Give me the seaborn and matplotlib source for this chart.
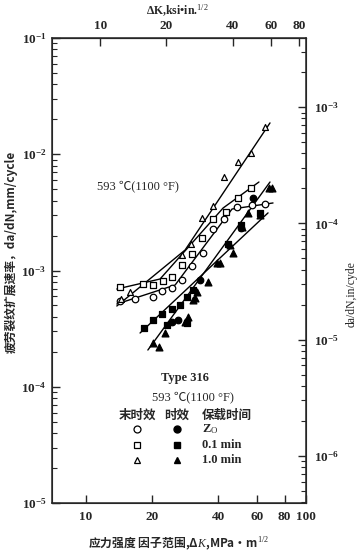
import numpy as np
import pandas as pd
import matplotlib
matplotlib.use("Agg")
import matplotlib.pyplot as plt
import seaborn as sns
from matplotlib.ticker import LogLocator, FixedLocator, FixedFormatter, NullLocator, NullFormatter

# ---------------- data (ΔK in MPa·m^1/2, da/dN in mm/cycle) ----------------
# unaged (open symbols)
circ_K    = [14.3, 16.7, 20.2, 22.2, 24.6, 27.3, 30.3, 34.0, 37.8, 42.4, 48.6, 56.8, 65.1]
circ_rate = [5.47e-4, 5.69e-4, 5.92e-4, 6.67e-4, 7.07e-4, 8.28e-4, 1.094e-3, 1.415e-3,
             2.28e-3, 2.77e-3, 3.51e-3, 3.66e-3, 3.73e-3]
sq_K      = [14.3, 18.2, 20.2, 22.4, 24.6, 27.3, 30.3, 33.7, 37.8, 43.3, 49.1, 56.2]
sq_rate   = [7.21e-4, 7.66e-4, 7.5e-4, 8.13e-4, 8.79e-4, 1.115e-3, 1.387e-3, 1.905e-3,
             2.77e-3, 3.18e-3, 4.2e-3, 5.13e-3]
tri_K     = [14.4, 15.8, 27.3, 30.0, 33.7, 37.8, 42.4, 49.1, 56.2, 65.1]
tri_rate  = [5.69e-4, 6.53e-4, 1.36e-3, 1.69e-3, 2.83e-3, 3.59e-3, 6.37e-3, 8.57e-3,
             1.025e-2, 1.72e-2]
# aged (filled symbols)
fcirc_K    = [24.6, 26.2, 33.0, 50.7, 57.4]
fcirc_rate = [3.6e-4, 3.75e-4, 8.28e-4, 2.32e-3, 4.2e-3]
fsq_K      = [18.4, 20.2, 22.2, 24.6, 26.8, 28.8, 30.6, 23.3, 28.8, 44.2, 50.7, 61.8]
fsq_rate   = [3.2e-4, 3.75e-4, 4.22e-4, 4.67e-4, 5.05e-4, 5.92e-4, 6.79e-4, 3.4e-4,
              3.53e-4, 1.69e-3, 2.46e-3, 3.13e-3]
ftri_K     = [20.2, 21.5, 22.9, 28.2, 29.1, 30.6, 31.3, 32.0, 35.8, 39.4, 40.6, 45.1, 46.6,
              51.2, 54.5, 61.8, 68.0, 70.0]
ftri_rate  = [2.38e-4, 2.2e-4, 2.9e-4, 3.6e-4, 3.98e-4, 5.57e-4, 5.8e-4, 6.53e-4, 7.96e-4,
              1.16e-3, 1.16e-3, 1.66e-3, 1.415e-3, 2.37e-3, 3.13e-3, 3.0e-3, 5.13e-3, 5.13e-3]

# fitted lines
line_circ_K    = [13.8, 25.4, 46.1, 70.8]
line_circ_rate = [5.15e-4, 7.5e-4, 3.38e-3, 3.81e-3]
line_sq_K      = [13.8, 21.7, 42.0, 61.1]
line_sq_rate   = [6.93e-4, 8.45e-4, 3.45e-3, 5.77e-3]
line_tri_K     = [13.8, 28.2, 68.6]
line_tri_rate  = [4.95e-4, 1.5e-3, 1.86e-2]
line_fsq_K     = [17.6, 67.2]
line_fsq_rate  = [2.9e-4, 3.13e-3]
line_ftri_K    = [19.1, 68.6]
line_ftri_rate = [2.07e-4, 5.77e-3]

bottom_ticks = [10, 20, 40, 60, 80, 100]
top_ticks = [10, 20, 40, 60, 80]
KSI_FACTOR = 1.16   # ksi·in^1/2 -> MPa·m^1/2 as drawn
IN_PER_MM = 1 / 25.4

# ---------------- style ----------------
sns.set_style("ticks")
plt.rcParams['font.family'] = ['Liberation Serif', 'Noto Sans CJK SC', 'DejaVu Sans']
plt.rcParams['mathtext.fontset'] = 'custom'
plt.rcParams['mathtext.rm'] = 'Liberation Serif'
plt.rcParams['mathtext.it'] = 'Liberation Serif:italic'
plt.rcParams['mathtext.bf'] = 'Liberation Serif:bold'
cjk = ['Noto Sans CJK SC', 'Liberation Serif']

fig = plt.figure(figsize=(3.6, 5.51), dpi=100)
ax = fig.add_axes([52/360, 1-503/551, 254/360, 465/551])

ax.set_xscale('log')
ax.set_yscale('log')
ax.set_xlim(7.0, 100)
ax.set_ylim(1e-5, 1e-1)

# lines
for lk, lr in [(line_circ_K, line_circ_rate), (line_sq_K, line_sq_rate),
               (line_tri_K, line_tri_rate), (line_fsq_K, line_fsq_rate),
               (line_ftri_K, line_ftri_rate)]:
    sns.lineplot(x=lk, y=lr, ax=ax, color='black', lw=1.0, sort=False, estimator=None)

# markers
series = [
    (circ_K, circ_rate, 'o', 'white', 22),
    (sq_K, sq_rate, 's', 'white', 20),
    (tri_K, tri_rate, '^', 'white', 18),
    (fcirc_K, fcirc_rate, 'o', 'black', 22),
    (fsq_K, fsq_rate, 's', 'black', 16),
    (ftri_K, ftri_rate, '^', 'black', 24),
]
for xs, ys, m, fc, s in series:
    sns.scatterplot(x=xs, y=ys, ax=ax, marker=m, s=s, facecolor=fc,
                    edgecolor='black', linewidth=0.9, zorder=3)

# ticks
ax.xaxis.set_major_locator(FixedLocator(bottom_ticks))
ax.xaxis.set_major_formatter(FixedFormatter([str(t) for t in bottom_ticks]))
ax.xaxis.set_minor_locator(NullLocator())
ax.yaxis.set_major_locator(LogLocator(base=10, numticks=10))
ax.yaxis.set_minor_locator(LogLocator(base=10, subs=np.arange(2, 10), numticks=20))
ax.yaxis.set_minor_formatter(NullFormatter())
ax.tick_params(axis='both', which='major', direction='in', length=6, width=1.0,
               labelsize=9.5, pad=4)
ax.tick_params(axis='y', which='minor', direction='in', length=3.5, width=0.8)
ax.tick_params(axis='x', which='major', pad=6)
for sp in ax.spines.values():
    sp.set_linewidth(1.1)

# right axis (in/cycle)
ax2 = ax.twinx()
ax2.set_yscale('log')
ax2.set_ylim(1e-5 * IN_PER_MM, 1e-1 * IN_PER_MM)
ax2.yaxis.set_major_locator(FixedLocator([1e-6, 1e-5, 1e-4, 1e-3]))
ax2.yaxis.set_minor_locator(LogLocator(base=10, subs=np.arange(2, 10), numticks=20))
ax2.yaxis.set_minor_formatter(NullFormatter())
ax2.tick_params(axis='y', which='major', direction='in', length=6, width=1.0, labelsize=9.5, pad=6)
ax2.tick_params(axis='y', which='minor', direction='in', length=3.5, width=0.8)
ax2.set_ylabel('da/dN,in/cyde', fontsize=8.5)
ax2.yaxis.set_label_coords((346-52)/254, 0.45)

# top axis (ksi·in^1/2)
axt = ax.secondary_xaxis('top', functions=(lambda x: x / KSI_FACTOR, lambda x: x * KSI_FACTOR))
axt.xaxis.set_major_locator(FixedLocator(top_ticks))
axt.xaxis.set_major_formatter(FixedFormatter([str(t) for t in top_ticks]))
axt.xaxis.set_minor_locator(NullLocator())
axt.tick_params(axis='x', which='major', direction='in', length=6, width=1.0, labelsize=9.5, pad=4)
axt.set_xlabel('ΔK,ksi•in.$^{1/2}$', fontsize=8.5, fontweight='bold')
axt.xaxis.set_label_coords(177/360, 1 - 15/551, transform=fig.transFigure)

for t in ax.get_xticklabels() + ax.get_yticklabels() + ax2.get_yticklabels() + axt.xaxis.get_ticklabels():
    t.set_fontweight('bold')

# axis labels
ax.set_ylabel('疲劳裂纹扩展速率，da/dN,mm/cycle', fontsize=8.5, family=cjk, fontweight='bold')
ax.yaxis.set_label_coords((18-52)/254, 0.54)
ax.set_xlabel('应力强度 因子范围,Δ$K$,MPa•m$^{1/2}$', fontsize=8.5, family=cjk,
              fontweight='bold', labelpad=8)

# annotations
ax.text(0.177, 0.682, '593 ℃(1100 °F)', transform=ax.transAxes, fontsize=9,
        ha='left', va='center')
ax.text(0.524, 0.269, 'Type 316', transform=ax.transAxes, fontsize=9, ha='center', va='center',
        fontweight='bold')
ax.text(0.555, 0.228, '593 ℃(1100 °F)', transform=ax.transAxes, fontsize=9, ha='center', va='center')
ax.text((137-52)/254, (503-415)/465, '末时效', transform=ax.transAxes, fontsize=9,
        family=cjk, ha='center', va='center', fontweight='bold')
ax.text((177-52)/254, (503-415)/465, '时效', transform=ax.transAxes, fontsize=9,
        family=cjk, ha='center', va='center', fontweight='bold')
ax.text((227-52)/254, (503-415)/465, '保载时间', transform=ax.transAxes, fontsize=9,
        family=cjk, ha='center', va='center', fontweight='bold')
leg_rows = [('o', 'Z$_{\\rm O}$', 429), ('s', '0.1 min', 445), ('^', '1.0 min', 460)]
for m, lab, py in leg_rows:
    fy = (503 - py) / 465
    ax.plot([(137-52)/254], [fy], marker=m, ms=5 if m != '^' else 4, mfc='white', mec='black',
            mew=0.9, transform=ax.transAxes, clip_on=False)
    ax.plot([(177-52)/254], [fy], marker=m, ms=5, mfc='black', mec='black',
            transform=ax.transAxes, clip_on=False)
    ax.text((202-52)/254, fy, lab, transform=ax.transAxes, fontsize=9, ha='left', va='center',
            fontweight='bold')

fig.savefig('out.png', dpi=100)
